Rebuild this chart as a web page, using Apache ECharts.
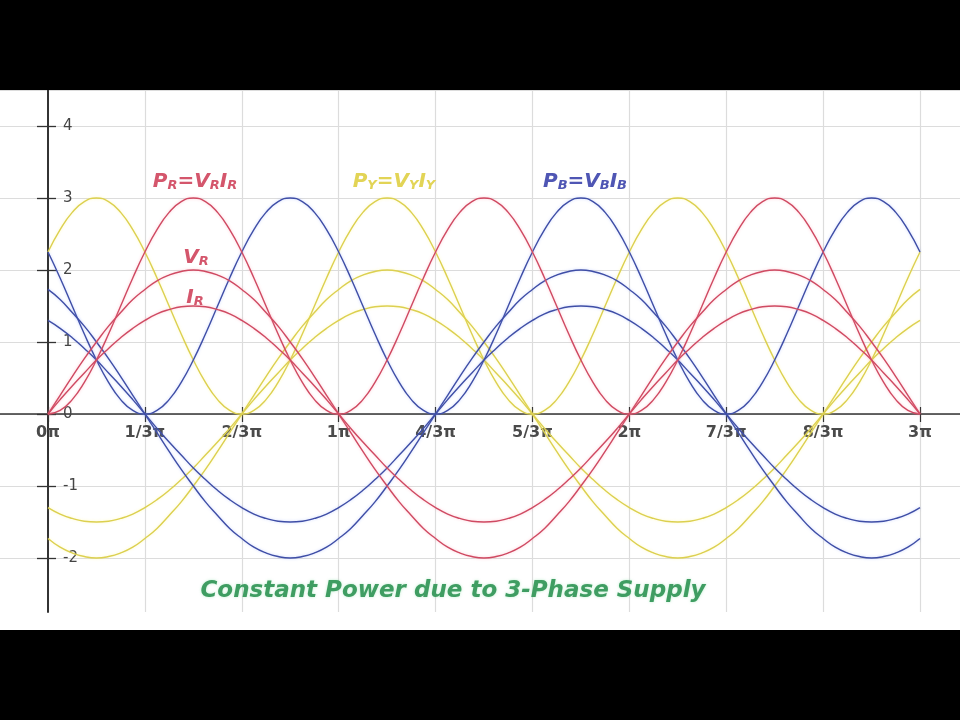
<!DOCTYPE html>
<html>
<head>
<meta charset="utf-8">
<script src="https://cdn.jsdelivr.net/npm/echarts@6/dist/echarts.min.js"></script>
<style>
html,body{margin:0;padding:0;background:#000;width:960px;height:720px;overflow:hidden;}
#c{position:absolute;left:0;top:90px;width:960px;height:540px;background:#fff;}
</style>
</head>
<body>
<div id="c"></div>
<script>
// x positions: phase angle in degrees, read every 7.5° from 0 to 3π
const angleDeg = [0,7.5,15,22.5,30,37.5,45,52.5,60,67.5,75,82.5,90,97.5,105,112.5,120,127.5,135,142.5,150,157.5,165,172.5,180,187.5,195,202.5,210,217.5,225,232.5,240,247.5,255,262.5,270,277.5,285,292.5,300,307.5,315,322.5,330,337.5,345,352.5,360,367.5,375,382.5,390,397.5,405,412.5,420,427.5,435,442.5,450,457.5,465,472.5,480,487.5,495,502.5,510,517.5,525,532.5,540];
const xTickLabels = ['0π','1/3π','2/3π','1π','4/3π','5/3π','2π','7/3π','8/3π','3π'];
const yTickLabels = ['-2','-1','0','1','2','3','4'];

// R phase
const vR = [0,0.26,0.52,0.77,1,1.22,1.41,1.59,1.73,1.85,1.93,1.98,2,1.98,1.93,1.85,1.73,1.59,1.41,1.22,1,0.77,0.52,0.26,0,
  -0.26,-0.52,-0.77,-1,-1.22,-1.41,-1.59,-1.73,-1.85,-1.93,-1.98,-2,-1.98,-1.93,-1.85,-1.73,-1.59,-1.41,-1.22,-1,-0.77,-0.52,-0.26,0,
  0.26,0.52,0.77,1,1.22,1.41,1.59,1.73,1.85,1.93,1.98,2,1.98,1.93,1.85,1.73,1.59,1.41,1.22,1,0.77,0.52,0.26,0];
const iR = [0,0.2,0.39,0.57,0.75,0.91,1.06,1.19,1.3,1.39,1.45,1.49,1.5,1.49,1.45,1.39,1.3,1.19,1.06,0.91,0.75,0.57,0.39,0.2,0,
  -0.2,-0.39,-0.57,-0.75,-0.91,-1.06,-1.19,-1.3,-1.39,-1.45,-1.49,-1.5,-1.49,-1.45,-1.39,-1.3,-1.19,-1.06,-0.91,-0.75,-0.57,-0.39,-0.2,0,
  0.2,0.39,0.57,0.75,0.91,1.06,1.19,1.3,1.39,1.45,1.49,1.5,1.49,1.45,1.39,1.3,1.19,1.06,0.91,0.75,0.57,0.39,0.2,0];
const pR = [0,0.05,0.2,0.44,0.75,1.11,1.5,1.89,2.25,2.56,2.8,2.95,3,2.95,2.8,2.56,2.25,1.89,1.5,1.11,0.75,0.44,0.2,0.05,
  0,0.05,0.2,0.44,0.75,1.11,1.5,1.89,2.25,2.56,2.8,2.95,3,2.95,2.8,2.56,2.25,1.89,1.5,1.11,0.75,0.44,0.2,0.05,
  0,0.05,0.2,0.44,0.75,1.11,1.5,1.89,2.25,2.56,2.8,2.95,3,2.95,2.8,2.56,2.25,1.89,1.5,1.11,0.75,0.44,0.2,0.05,0];
// Y phase
const vY = [-1.73,-1.85,-1.93,-1.98,-2,-1.98,-1.93,-1.85,-1.73,-1.59,-1.41,-1.22,-1,-0.77,-0.52,-0.26,
  0,0.26,0.52,0.77,1,1.22,1.41,1.59,1.73,1.85,1.93,1.98,2,1.98,1.93,1.85,1.73,1.59,1.41,1.22,1,0.77,0.52,0.26,
  0,-0.26,-0.52,-0.77,-1,-1.22,-1.41,-1.59,-1.73,-1.85,-1.93,-1.98,-2,-1.98,-1.93,-1.85,-1.73,-1.59,-1.41,-1.22,-1,-0.77,-0.52,-0.26,
  0,0.26,0.52,0.77,1,1.22,1.41,1.59,1.73];
const iY = [-1.3,-1.39,-1.45,-1.49,-1.5,-1.49,-1.45,-1.39,-1.3,-1.19,-1.06,-0.91,-0.75,-0.57,-0.39,-0.2,
  0,0.2,0.39,0.57,0.75,0.91,1.06,1.19,1.3,1.39,1.45,1.49,1.5,1.49,1.45,1.39,1.3,1.19,1.06,0.91,0.75,0.57,0.39,0.2,
  0,-0.2,-0.39,-0.57,-0.75,-0.91,-1.06,-1.19,-1.3,-1.39,-1.45,-1.49,-1.5,-1.49,-1.45,-1.39,-1.3,-1.19,-1.06,-0.91,-0.75,-0.57,-0.39,-0.2,
  0,0.2,0.39,0.57,0.75,0.91,1.06,1.19,1.3];
const pY = [2.25,2.56,2.8,2.95,3,2.95,2.8,2.56,2.25,1.89,1.5,1.11,0.75,0.44,0.2,0.05,
  0,0.05,0.2,0.44,0.75,1.11,1.5,1.89,2.25,2.56,2.8,2.95,3,2.95,2.8,2.56,2.25,1.89,1.5,1.11,0.75,0.44,0.2,0.05,
  0,0.05,0.2,0.44,0.75,1.11,1.5,1.89,2.25,2.56,2.8,2.95,3,2.95,2.8,2.56,2.25,1.89,1.5,1.11,0.75,0.44,0.2,0.05,
  0,0.05,0.2,0.44,0.75,1.11,1.5,1.89,2.25];
// B phase
const vB = [1.73,1.59,1.41,1.22,1,0.77,0.52,0.26,
  0,-0.26,-0.52,-0.77,-1,-1.22,-1.41,-1.59,-1.73,-1.85,-1.93,-1.98,-2,-1.98,-1.93,-1.85,-1.73,-1.59,-1.41,-1.22,-1,-0.77,-0.52,-0.26,
  0,0.26,0.52,0.77,1,1.22,1.41,1.59,1.73,1.85,1.93,1.98,2,1.98,1.93,1.85,1.73,1.59,1.41,1.22,1,0.77,0.52,0.26,
  0,-0.26,-0.52,-0.77,-1,-1.22,-1.41,-1.59,-1.73,-1.85,-1.93,-1.98,-2,-1.98,-1.93,-1.85,-1.73];
const iB = [1.3,1.19,1.06,0.91,0.75,0.57,0.39,0.2,
  0,-0.2,-0.39,-0.57,-0.75,-0.91,-1.06,-1.19,-1.3,-1.39,-1.45,-1.49,-1.5,-1.49,-1.45,-1.39,-1.3,-1.19,-1.06,-0.91,-0.75,-0.57,-0.39,-0.2,
  0,0.2,0.39,0.57,0.75,0.91,1.06,1.19,1.3,1.39,1.45,1.49,1.5,1.49,1.45,1.39,1.3,1.19,1.06,0.91,0.75,0.57,0.39,0.2,
  0,-0.2,-0.39,-0.57,-0.75,-0.91,-1.06,-1.19,-1.3,-1.39,-1.45,-1.49,-1.5,-1.49,-1.45,-1.39,-1.3];
const pB = [2.25,1.89,1.5,1.11,0.75,0.44,0.2,0.05,
  0,0.05,0.2,0.44,0.75,1.11,1.5,1.89,2.25,2.56,2.8,2.95,3,2.95,2.8,2.56,2.25,1.89,1.5,1.11,0.75,0.44,0.2,0.05,
  0,0.05,0.2,0.44,0.75,1.11,1.5,1.89,2.25,2.56,2.8,2.95,3,2.95,2.8,2.56,2.25,1.89,1.5,1.11,0.75,0.44,0.2,0.05,
  0,0.05,0.2,0.44,0.75,1.11,1.5,1.89,2.25,2.56,2.8,2.95,3,2.95,2.8,2.56,2.25];

const RED = '#cf4a62', RED_GLOW = 'rgba(255,140,160,0.45)';
const YEL = '#dcd050', YEL_GLOW = 'rgba(255,245,120,0.45)';
const BLU = '#3f4ea6', BLU_GLOW = 'rgba(120,150,255,0.4)';
const AXIS = '#333';
const GRIDC = '#dcdcdc';
const FONT = 'DejaVu Sans';
const STEPS_PER_TICK = 8; // categories between labelled ticks (π/3 = 60° / 7.5°)

function line(name, data, color, glow) {
  return {
    name: name, type: 'line', data: data, smooth: true, showSymbol: false,
    xAxisIndex: 0, yAxisIndex: 0, silent: true,
    lineStyle: { color: color, width: 1.4, shadowColor: glow, shadowBlur: 3 },
    itemStyle: { color: color }
  };
}

const labelFont = { fontFamily: FONT, fontStyle: 'italic', fontWeight: 'bold' };
function richLabel(x, y, parts, color) {
  const txt = parts.map(p => (p[1] ? '{b|' : '{a|') + p[0] + '}').join('');
  return {
    type: 'text', x: x, y: y, silent: true, z: 50,
    style: {
      text: txt, align: 'center', verticalAlign: 'middle',
      rich: {
        a: Object.assign({ fontSize: 20, fill: color, verticalAlign: 'bottom', lineHeight: 22 }, labelFont),
        b: Object.assign({ fontSize: 13, fill: color, verticalAlign: 'bottom', lineHeight: 22 }, labelFont)
      }
    }
  };
}

const hiddenValue = function (g) {
  return { type: 'value', gridIndex: g, show: false, min: 0, max: 1 };
};

const chart = echarts.init(document.getElementById('c'));
const option = {
  animation: false,
  backgroundColor: '#fff',
  grid: [
    { left: 48, right: 40, top: 0, bottom: 18 },   // 0: plot
    { left: 0, right: 0, top: 0, bottom: 0 },      // 1: background grid lines + x axis line
    { left: 48, right: 40, top: 0, bottom: 216 },  // 2: x labels & lower ticks
    { left: 48, right: 40, top: 324, bottom: 0 },  // 3: upper x ticks
    { left: 0, right: 912, top: 36, bottom: 72 },  // 4: y labels & right ticks
    { left: 48, right: 0, top: 36, bottom: 72 }    // 5: left y ticks
  ],
  xAxis: [
    {
      type: 'category', gridIndex: 0, data: angleDeg, boundaryGap: false,
      axisLine: { show: false }, axisTick: { show: false }, axisLabel: { show: false },
      splitLine: { show: true, interval: STEPS_PER_TICK - 1, lineStyle: { color: GRIDC, width: 1.2 } }
    },
    {
      type: 'value', gridIndex: 1, min: 0, max: 1, position: 'bottom',
      axisLine: { show: true, onZero: true, lineStyle: { color: AXIS, width: 1.5 } },
      axisTick: { show: false }, axisLabel: { show: false }, splitLine: { show: false }
    },
    {
      type: 'category', gridIndex: 2, data: angleDeg, boundaryGap: false, position: 'bottom',
      axisLine: { show: false, onZero: false },
      axisTick: { show: true, interval: STEPS_PER_TICK - 1, length: 8, inside: false, lineStyle: { color: AXIS, width: 1.2 } },
      axisLabel: {
        show: true, interval: STEPS_PER_TICK - 1, margin: 11, color: '#4a4a4a', fontFamily: FONT, fontSize: 16, fontWeight: 'bold',
        formatter: function (v, i) { return xTickLabels[i / STEPS_PER_TICK]; }
      },
      splitLine: { show: false }
    },
    {
      type: 'category', gridIndex: 3, data: angleDeg, boundaryGap: false, position: 'top',
      axisLine: { show: false, onZero: false },
      axisTick: { show: true, interval: STEPS_PER_TICK - 1, length: 7, inside: false, lineStyle: { color: AXIS, width: 1.2 } },
      axisLabel: { show: false }, splitLine: { show: false }
    },
    { type: 'value', gridIndex: 4, show: false, min: 0, max: 1 },
    { type: 'value', gridIndex: 5, show: false, min: 0, max: 1 }
  ],
  yAxis: [
    {
      type: 'value', gridIndex: 0, min: -2.75, max: 4.5, position: 'left',
      axisLine: { show: true, onZero: false, lineStyle: { color: AXIS, width: 2 } },
      axisTick: { show: false }, axisLabel: { show: false }, splitLine: { show: false }
    },
    {
      type: 'value', gridIndex: 1, min: -3, max: 4.5, interval: 1, position: 'left',
      axisLine: { show: false, onZero: false }, axisTick: { show: false }, axisLabel: { show: false },
      splitLine: { show: true, lineStyle: { color: GRIDC, width: 1.2 } }
    },
    hiddenValue(2),
    hiddenValue(3),
    {
      type: 'value', gridIndex: 4, min: -2, max: 4, interval: 1, position: 'right',
      axisLine: { show: false, onZero: false },
      axisTick: { show: true, inside: false, length: 8, lineStyle: { color: AXIS, width: 1.3 } },
      axisLabel: {
        show: true, margin: 15, color: '#444', fontFamily: FONT, fontSize: 15,
        formatter: function (v) { const i = v + 2; return (i >= 0 && i < yTickLabels.length) ? yTickLabels[i] : ''; }
      },
      splitLine: { show: false }
    },
    {
      type: 'value', gridIndex: 5, min: -2, max: 4, interval: 1, position: 'left',
      axisLine: { show: false, onZero: false },
      axisTick: { show: true, inside: false, length: 11, lineStyle: { color: AXIS, width: 1.3 } },
      axisLabel: { show: false }, splitLine: { show: false }
    }
  ],
  series: [
    line('PY', pY, YEL, YEL_GLOW),
    line('VY', vY, YEL, YEL_GLOW),
    line('IY', iY, YEL, YEL_GLOW),
    line('PB', pB, BLU, BLU_GLOW),
    line('VB', vB, BLU, BLU_GLOW),
    line('IB', iB, BLU, BLU_GLOW),
    line('PR', pR, RED, RED_GLOW),
    line('VR', vR, RED, RED_GLOW),
    line('IR', iR, RED, RED_GLOW)
  ],
  graphic: [
    richLabel(195, 91, [['P', 0], ['R', 1], ['=V', 0], ['R', 1], ['I', 0], ['R', 1]], '#d4566c'),
    richLabel(394, 91, [['P', 0], ['Y', 1], ['=V', 0], ['Y', 1], ['I', 0], ['Y', 1]], '#e2d456'),
    richLabel(585, 91, [['P', 0], ['B', 1], ['=V', 0], ['B', 1], ['I', 0], ['B', 1]], '#4f56b4'),
    richLabel(196, 167, [['V', 0], ['R', 1]], '#d4566c'),
    richLabel(195, 207, [['I', 0], ['R', 1]], '#d4566c'),
    {
      type: 'text', x: 453, y: 501, silent: true, z: 50,
      style: {
        text: 'Constant Power due to 3-Phase Supply', align: 'center', verticalAlign: 'middle',
        fontFamily: FONT, fontStyle: 'italic', fontWeight: 'bold', fontSize: 23, fill: '#3f9d62',
        textShadowColor: 'rgba(90,210,130,0.4)', textShadowBlur: 3
      }
    }
  ]
};
chart.setOption(option);
</script>
</body>
</html>
